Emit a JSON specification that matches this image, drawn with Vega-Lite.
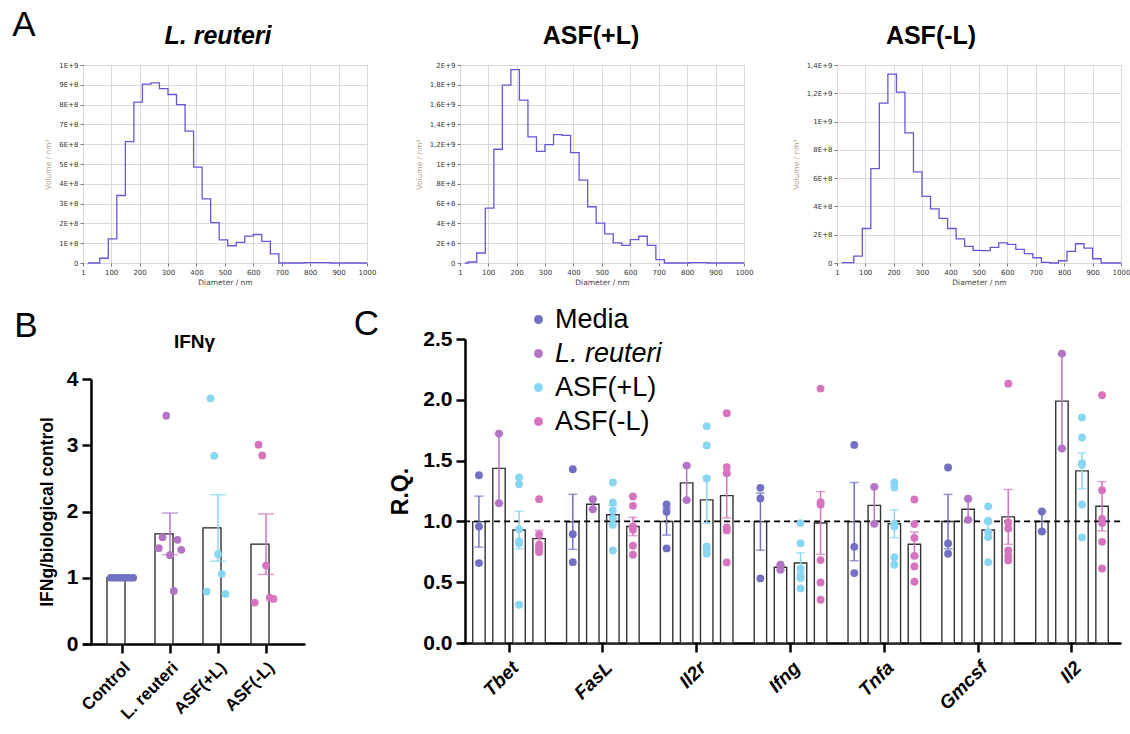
{
  "$schema": "https://vega.github.io/schema/vega-lite/v6.json",
  "background": "white",
  "padding": {"left": 12, "top": 7, "right": 5, "bottom": 5},
  "config": {
    "view": {"stroke": null},
    "font": "Liberation Sans",
    "title": {"font": "Liberation Sans", "color": "black"},
    "axis": {"labelFont": "Liberation Sans", "titleFont": "Liberation Sans", "labelColor": "black", "titleColor": "black"},
    "legend": {"labelFont": "Liberation Sans"}
  },
  "datasets": {
    "nta": [
      {"sample": "L. reuteri", "diameter": 18, "volume": 0},
      {"sample": "L. reuteri", "diameter": 60, "volume": 2.4e7},
      {"sample": "L. reuteri", "diameter": 90, "volume": 1.22e8},
      {"sample": "L. reuteri", "diameter": 120, "volume": 3.41e8},
      {"sample": "L. reuteri", "diameter": 150, "volume": 6.13e8},
      {"sample": "L. reuteri", "diameter": 180, "volume": 8.13e8},
      {"sample": "L. reuteri", "diameter": 210, "volume": 9.03e8},
      {"sample": "L. reuteri", "diameter": 240, "volume": 9.1e8},
      {"sample": "L. reuteri", "diameter": 270, "volume": 8.81e8},
      {"sample": "L. reuteri", "diameter": 300, "volume": 8.51e8},
      {"sample": "L. reuteri", "diameter": 330, "volume": 8.0e8},
      {"sample": "L. reuteri", "diameter": 360, "volume": 6.66e8},
      {"sample": "L. reuteri", "diameter": 390, "volume": 4.84e8},
      {"sample": "L. reuteri", "diameter": 420, "volume": 3.24e8},
      {"sample": "L. reuteri", "diameter": 450, "volume": 2.04e8},
      {"sample": "L. reuteri", "diameter": 480, "volume": 1.17e8},
      {"sample": "L. reuteri", "diameter": 510, "volume": 8.7e7},
      {"sample": "L. reuteri", "diameter": 540, "volume": 1.04e8},
      {"sample": "L. reuteri", "diameter": 570, "volume": 1.36e8},
      {"sample": "L. reuteri", "diameter": 600, "volume": 1.44e8},
      {"sample": "L. reuteri", "diameter": 630, "volume": 1.09e8},
      {"sample": "L. reuteri", "diameter": 660, "volume": 4.6e7},
      {"sample": "L. reuteri", "diameter": 690, "volume": 0},
      {"sample": "L. reuteri", "diameter": 780, "volume": 2e6},
      {"sample": "L. reuteri", "diameter": 870, "volume": 0},
      {"sample": "L. reuteri", "diameter": 1000, "volume": 0},
      {"sample": "ASF(+L)", "diameter": 18, "volume": 0},
      {"sample": "ASF(+L)", "diameter": 30, "volume": 1e7},
      {"sample": "ASF(+L)", "diameter": 60, "volume": 1.01e8},
      {"sample": "ASF(+L)", "diameter": 90, "volume": 5.54e8},
      {"sample": "ASF(+L)", "diameter": 120, "volume": 1.149e9},
      {"sample": "ASF(+L)", "diameter": 150, "volume": 1.797e9},
      {"sample": "ASF(+L)", "diameter": 180, "volume": 1.953e9},
      {"sample": "ASF(+L)", "diameter": 210, "volume": 1.645e9},
      {"sample": "ASF(+L)", "diameter": 240, "volume": 1.274e9},
      {"sample": "ASF(+L)", "diameter": 270, "volume": 1.128e9},
      {"sample": "ASF(+L)", "diameter": 300, "volume": 1.196e9},
      {"sample": "ASF(+L)", "diameter": 330, "volume": 1.297e9},
      {"sample": "ASF(+L)", "diameter": 360, "volume": 1.29e9},
      {"sample": "ASF(+L)", "diameter": 390, "volume": 1.115e9},
      {"sample": "ASF(+L)", "diameter": 420, "volume": 8.38e8},
      {"sample": "ASF(+L)", "diameter": 450, "volume": 5.68e8},
      {"sample": "ASF(+L)", "diameter": 480, "volume": 4.02e8},
      {"sample": "ASF(+L)", "diameter": 510, "volume": 2.94e8},
      {"sample": "ASF(+L)", "diameter": 540, "volume": 2.03e8},
      {"sample": "ASF(+L)", "diameter": 570, "volume": 1.79e8},
      {"sample": "ASF(+L)", "diameter": 600, "volume": 2.36e8},
      {"sample": "ASF(+L)", "diameter": 630, "volume": 2.7e8},
      {"sample": "ASF(+L)", "diameter": 660, "volume": 1.79e8},
      {"sample": "ASF(+L)", "diameter": 690, "volume": 3.4e7},
      {"sample": "ASF(+L)", "diameter": 720, "volume": 0},
      {"sample": "ASF(+L)", "diameter": 810, "volume": 3e6},
      {"sample": "ASF(+L)", "diameter": 870, "volume": 0},
      {"sample": "ASF(+L)", "diameter": 1000, "volume": 0},
      {"sample": "ASF(-L)", "diameter": 18, "volume": 2e6},
      {"sample": "ASF(-L)", "diameter": 60, "volume": 4.9e7},
      {"sample": "ASF(-L)", "diameter": 90, "volume": 2.44e8},
      {"sample": "ASF(-L)", "diameter": 120, "volume": 6.67e8},
      {"sample": "ASF(-L)", "diameter": 150, "volume": 1.131e9},
      {"sample": "ASF(-L)", "diameter": 180, "volume": 1.335e9},
      {"sample": "ASF(-L)", "diameter": 210, "volume": 1.208e9},
      {"sample": "ASF(-L)", "diameter": 240, "volume": 9.2e8},
      {"sample": "ASF(-L)", "diameter": 270, "volume": 6.44e8},
      {"sample": "ASF(-L)", "diameter": 300, "volume": 4.71e8},
      {"sample": "ASF(-L)", "diameter": 330, "volume": 3.82e8},
      {"sample": "ASF(-L)", "diameter": 360, "volume": 3.16e8},
      {"sample": "ASF(-L)", "diameter": 390, "volume": 2.44e8},
      {"sample": "ASF(-L)", "diameter": 420, "volume": 1.71e8},
      {"sample": "ASF(-L)", "diameter": 450, "volume": 1.17e8},
      {"sample": "ASF(-L)", "diameter": 480, "volume": 8.9e7},
      {"sample": "ASF(-L)", "diameter": 510, "volume": 8.7e7},
      {"sample": "ASF(-L)", "diameter": 540, "volume": 1.1e8},
      {"sample": "ASF(-L)", "diameter": 570, "volume": 1.43e8},
      {"sample": "ASF(-L)", "diameter": 600, "volume": 1.31e8},
      {"sample": "ASF(-L)", "diameter": 630, "volume": 9.6e7},
      {"sample": "ASF(-L)", "diameter": 660, "volume": 6.6e7},
      {"sample": "ASF(-L)", "diameter": 690, "volume": 3.7e7},
      {"sample": "ASF(-L)", "diameter": 720, "volume": 5e6},
      {"sample": "ASF(-L)", "diameter": 750, "volume": 0},
      {"sample": "ASF(-L)", "diameter": 780, "volume": 1.6e7},
      {"sample": "ASF(-L)", "diameter": 810, "volume": 8.2e7},
      {"sample": "ASF(-L)", "diameter": 840, "volume": 1.36e8},
      {"sample": "ASF(-L)", "diameter": 870, "volume": 1.05e8},
      {"sample": "ASF(-L)", "diameter": 900, "volume": 3.0e7},
      {"sample": "ASF(-L)", "diameter": 930, "volume": 0},
      {"sample": "ASF(-L)", "diameter": 1000, "volume": 0}
    ],
    "ifng": [
      {"group": "Control", "rep": 1, "value": 1.0},
      {"group": "Control", "rep": 2, "value": 1.0},
      {"group": "Control", "rep": 3, "value": 1.0},
      {"group": "Control", "rep": 4, "value": 1.0},
      {"group": "Control", "rep": 5, "value": 1.0},
      {"group": "Control", "rep": 6, "value": 1.0},
      {"group": "Control", "rep": 7, "value": 1.0},
      {"group": "L. reuteri", "rep": 1, "value": 1.446},
      {"group": "L. reuteri", "rep": 2, "value": 1.612},
      {"group": "L. reuteri", "rep": 3, "value": 3.446},
      {"group": "L. reuteri", "rep": 4, "value": 1.34},
      {"group": "L. reuteri", "rep": 5, "value": 0.801},
      {"group": "L. reuteri", "rep": 6, "value": 1.572},
      {"group": "L. reuteri", "rep": 7, "value": 1.421},
      {"group": "ASF(+L)", "rep": 1, "value": 0.791},
      {"group": "ASF(+L)", "rep": 2, "value": 3.708},
      {"group": "ASF(+L)", "rep": 3, "value": 2.841},
      {"group": "ASF(+L)", "rep": 4, "value": 1.355},
      {"group": "ASF(+L)", "rep": 5, "value": 1.058},
      {"group": "ASF(+L)", "rep": 6, "value": 0.756},
      {"group": "ASF(-L)", "rep": 1, "value": 0.625},
      {"group": "ASF(-L)", "rep": 2, "value": 3.008},
      {"group": "ASF(-L)", "rep": 3, "value": 2.846},
      {"group": "ASF(-L)", "rep": 4, "value": 1.184},
      {"group": "ASF(-L)", "rep": 5, "value": 0.7},
      {"group": "ASF(-L)", "rep": 6, "value": 0.68}
    ],
    "rq": [
      {"gene": "Tbet", "group": "Media", "rep": 1, "value": 1.38},
      {"gene": "Tbet", "group": "Media", "rep": 2, "value": 0.958},
      {"gene": "Tbet", "group": "Media", "rep": 3, "value": 0.657},
      {"gene": "Tbet", "group": "L. reuteri", "rep": 1, "value": 1.722},
      {"gene": "Tbet", "group": "L. reuteri", "rep": 2, "value": 1.15},
      {"gene": "Tbet", "group": "ASF(+L)", "rep": 1, "value": 1.306},
      {"gene": "Tbet", "group": "ASF(+L)", "rep": 2, "value": 1.361},
      {"gene": "Tbet", "group": "ASF(+L)", "rep": 3, "value": 0.936},
      {"gene": "Tbet", "group": "ASF(+L)", "rep": 4, "value": 0.835},
      {"gene": "Tbet", "group": "ASF(+L)", "rep": 5, "value": 0.821},
      {"gene": "Tbet", "group": "ASF(+L)", "rep": 6, "value": 0.315},
      {"gene": "Tbet", "group": "ASF(-L)", "rep": 1, "value": 1.183},
      {"gene": "Tbet", "group": "ASF(-L)", "rep": 2, "value": 0.89},
      {"gene": "Tbet", "group": "ASF(-L)", "rep": 3, "value": 0.808},
      {"gene": "Tbet", "group": "ASF(-L)", "rep": 4, "value": 0.767},
      {"gene": "Tbet", "group": "ASF(-L)", "rep": 5, "value": 0.753},
      {"gene": "Tbet", "group": "ASF(-L)", "rep": 6, "value": 0.748},
      {"gene": "FasL", "group": "Media", "rep": 1, "value": 1.429},
      {"gene": "FasL", "group": "Media", "rep": 2, "value": 0.895},
      {"gene": "FasL", "group": "Media", "rep": 3, "value": 0.665},
      {"gene": "FasL", "group": "L. reuteri", "rep": 1, "value": 1.183},
      {"gene": "FasL", "group": "L. reuteri", "rep": 2, "value": 1.1},
      {"gene": "FasL", "group": "ASF(+L)", "rep": 1, "value": 1.32},
      {"gene": "FasL", "group": "ASF(+L)", "rep": 2, "value": 1.156},
      {"gene": "FasL", "group": "ASF(+L)", "rep": 3, "value": 1.09},
      {"gene": "FasL", "group": "ASF(+L)", "rep": 4, "value": 1.027},
      {"gene": "FasL", "group": "ASF(+L)", "rep": 5, "value": 0.972},
      {"gene": "FasL", "group": "ASF(+L)", "rep": 6, "value": 0.761},
      {"gene": "FasL", "group": "ASF(-L)", "rep": 1, "value": 1.205},
      {"gene": "FasL", "group": "ASF(-L)", "rep": 2, "value": 1.128},
      {"gene": "FasL", "group": "ASF(-L)", "rep": 3, "value": 0.958},
      {"gene": "FasL", "group": "ASF(-L)", "rep": 4, "value": 0.931},
      {"gene": "FasL", "group": "ASF(-L)", "rep": 5, "value": 0.8},
      {"gene": "FasL", "group": "ASF(-L)", "rep": 6, "value": 0.726},
      {"gene": "Il2r", "group": "Media", "rep": 1, "value": 1.139},
      {"gene": "Il2r", "group": "Media", "rep": 2, "value": 1.079},
      {"gene": "Il2r", "group": "Media", "rep": 3, "value": 0.778},
      {"gene": "Il2r", "group": "L. reuteri", "rep": 1, "value": 1.459},
      {"gene": "Il2r", "group": "L. reuteri", "rep": 2, "value": 1.175},
      {"gene": "Il2r", "group": "ASF(+L)", "rep": 1, "value": 1.783},
      {"gene": "Il2r", "group": "ASF(+L)", "rep": 2, "value": 1.624},
      {"gene": "Il2r", "group": "ASF(+L)", "rep": 3, "value": 1.353},
      {"gene": "Il2r", "group": "ASF(+L)", "rep": 4, "value": 0.794},
      {"gene": "Il2r", "group": "ASF(+L)", "rep": 5, "value": 0.772},
      {"gene": "Il2r", "group": "ASF(+L)", "rep": 6, "value": 0.734},
      {"gene": "Il2r", "group": "ASF(-L)", "rep": 1, "value": 1.889},
      {"gene": "Il2r", "group": "ASF(-L)", "rep": 2, "value": 1.446},
      {"gene": "Il2r", "group": "ASF(-L)", "rep": 3, "value": 1.396},
      {"gene": "Il2r", "group": "ASF(-L)", "rep": 4, "value": 0.95},
      {"gene": "Il2r", "group": "ASF(-L)", "rep": 5, "value": 0.926},
      {"gene": "Il2r", "group": "ASF(-L)", "rep": 6, "value": 0.663},
      {"gene": "Ifng", "group": "Media", "rep": 1, "value": 1.276},
      {"gene": "Ifng", "group": "Media", "rep": 2, "value": 1.188},
      {"gene": "Ifng", "group": "Media", "rep": 3, "value": 0.531},
      {"gene": "Ifng", "group": "L. reuteri", "rep": 1, "value": 0.643},
      {"gene": "Ifng", "group": "L. reuteri", "rep": 2, "value": 0.602},
      {"gene": "Ifng", "group": "ASF(+L)", "rep": 1, "value": 0.986},
      {"gene": "Ifng", "group": "ASF(+L)", "rep": 2, "value": 0.821},
      {"gene": "Ifng", "group": "ASF(+L)", "rep": 3, "value": 0.611},
      {"gene": "Ifng", "group": "ASF(+L)", "rep": 4, "value": 0.548},
      {"gene": "Ifng", "group": "ASF(+L)", "rep": 5, "value": 0.534},
      {"gene": "Ifng", "group": "ASF(+L)", "rep": 6, "value": 0.449},
      {"gene": "Ifng", "group": "ASF(-L)", "rep": 1, "value": 2.092},
      {"gene": "Ifng", "group": "ASF(-L)", "rep": 2, "value": 1.158},
      {"gene": "Ifng", "group": "ASF(-L)", "rep": 3, "value": 1.136},
      {"gene": "Ifng", "group": "ASF(-L)", "rep": 4, "value": 0.682},
      {"gene": "Ifng", "group": "ASF(-L)", "rep": 5, "value": 0.498},
      {"gene": "Ifng", "group": "ASF(-L)", "rep": 6, "value": 0.356},
      {"gene": "Tnfa", "group": "Media", "rep": 1, "value": 1.629},
      {"gene": "Tnfa", "group": "Media", "rep": 2, "value": 0.791},
      {"gene": "Tnfa", "group": "Media", "rep": 3, "value": 0.575},
      {"gene": "Tnfa", "group": "L. reuteri", "rep": 1, "value": 1.284},
      {"gene": "Tnfa", "group": "L. reuteri", "rep": 2, "value": 0.98},
      {"gene": "Tnfa", "group": "ASF(+L)", "rep": 1, "value": 1.32},
      {"gene": "Tnfa", "group": "ASF(+L)", "rep": 2, "value": 1.279},
      {"gene": "Tnfa", "group": "ASF(+L)", "rep": 3, "value": 0.98},
      {"gene": "Tnfa", "group": "ASF(+L)", "rep": 4, "value": 0.958},
      {"gene": "Tnfa", "group": "ASF(+L)", "rep": 5, "value": 0.706},
      {"gene": "Tnfa", "group": "ASF(+L)", "rep": 6, "value": 0.643},
      {"gene": "Tnfa", "group": "ASF(-L)", "rep": 1, "value": 1.18},
      {"gene": "Tnfa", "group": "ASF(-L)", "rep": 2, "value": 0.978},
      {"gene": "Tnfa", "group": "ASF(-L)", "rep": 3, "value": 0.865},
      {"gene": "Tnfa", "group": "ASF(-L)", "rep": 4, "value": 0.717},
      {"gene": "Tnfa", "group": "ASF(-L)", "rep": 5, "value": 0.63},
      {"gene": "Tnfa", "group": "ASF(-L)", "rep": 6, "value": 0.504},
      {"gene": "Gmcsf", "group": "Media", "rep": 1, "value": 1.443},
      {"gene": "Gmcsf", "group": "Media", "rep": 2, "value": 0.819},
      {"gene": "Gmcsf", "group": "Media", "rep": 3, "value": 0.734},
      {"gene": "Gmcsf", "group": "L. reuteri", "rep": 1, "value": 1.186},
      {"gene": "Gmcsf", "group": "L. reuteri", "rep": 2, "value": 1.013},
      {"gene": "Gmcsf", "group": "ASF(+L)", "rep": 1, "value": 1.123},
      {"gene": "Gmcsf", "group": "ASF(+L)", "rep": 2, "value": 1.005},
      {"gene": "Gmcsf", "group": "ASF(+L)", "rep": 3, "value": 1.0},
      {"gene": "Gmcsf", "group": "ASF(+L)", "rep": 4, "value": 0.912},
      {"gene": "Gmcsf", "group": "ASF(+L)", "rep": 5, "value": 0.871},
      {"gene": "Gmcsf", "group": "ASF(+L)", "rep": 6, "value": 0.665},
      {"gene": "Gmcsf", "group": "ASF(-L)", "rep": 1, "value": 2.133},
      {"gene": "Gmcsf", "group": "ASF(-L)", "rep": 2, "value": 0.991},
      {"gene": "Gmcsf", "group": "ASF(-L)", "rep": 3, "value": 0.942},
      {"gene": "Gmcsf", "group": "ASF(-L)", "rep": 4, "value": 0.761},
      {"gene": "Gmcsf", "group": "ASF(-L)", "rep": 5, "value": 0.717},
      {"gene": "Gmcsf", "group": "ASF(-L)", "rep": 6, "value": 0.679},
      {"gene": "Il2", "group": "Media", "rep": 1, "value": 1.082},
      {"gene": "Il2", "group": "Media", "rep": 2, "value": 0.917},
      {"gene": "Il2", "group": "L. reuteri", "rep": 1, "value": 2.38},
      {"gene": "Il2", "group": "L. reuteri", "rep": 2, "value": 1.599},
      {"gene": "Il2", "group": "ASF(+L)", "rep": 1, "value": 1.854},
      {"gene": "Il2", "group": "ASF(+L)", "rep": 2, "value": 1.69},
      {"gene": "Il2", "group": "ASF(+L)", "rep": 3, "value": 1.479},
      {"gene": "Il2", "group": "ASF(+L)", "rep": 4, "value": 1.465},
      {"gene": "Il2", "group": "ASF(+L)", "rep": 5, "value": 1.139},
      {"gene": "Il2", "group": "ASF(+L)", "rep": 6, "value": 0.868},
      {"gene": "Il2", "group": "ASF(-L)", "rep": 1, "value": 2.037},
      {"gene": "Il2", "group": "ASF(-L)", "rep": 2, "value": 1.257},
      {"gene": "Il2", "group": "ASF(-L)", "rep": 3, "value": 1.021},
      {"gene": "Il2", "group": "ASF(-L)", "rep": 4, "value": 0.986},
      {"gene": "Il2", "group": "ASF(-L)", "rep": 5, "value": 0.832},
      {"gene": "Il2", "group": "ASF(-L)", "rep": 6, "value": 0.613}
    ]
  },
  "title": {"text": "A", "anchor": "start", "fontSize": 35, "fontWeight": "normal", "offset": -19, "dx": -2},
  "columns": 3,
  "align": "none",
  "bounds": "flush",
  "spacing": {"row": 76, "column": 93},
  "resolve": {"scale": {"color": "independent", "fill": "independent"}, "legend": {"color": "independent", "fill": "independent"}},
  "concat": [
    {
      "width": 284, "height": 198,
      "view": {"stroke": "#9a9a9a"},
      "title": {"text": "L. reuteri", "fontStyle": "italic", "fontSize": 25, "fontWeight": "bold", "dx": -7, "offset": 12},
      "data": {"name": "nta"},
      "transform": [{"filter": "datum.sample === 'L. reuteri'"}],
      "mark": {"type": "line", "interpolate": "step-after", "color": "#6458d8", "strokeWidth": 1.3},
      "encoding": {
        "x": {"field": "diameter", "type": "quantitative", "scale": {"domain": [1, 1000], "nice": false, "zero": false},
          "axis": {"values": [1, 100, 200, 300, 400, 500, 600, 700, 800, 900, 1000], "format": "d", "grid": true, "gridColor": "#d9d9d9", "domain": false, "tickColor": "#777", "tickSize": 3, "labelFont": "DejaVu Sans", "labelFontSize": 7, "labelColor": "#333", "labelPadding": 2, "labelFlush": false, "title": "Diameter / nm", "titleFont": "DejaVu Sans", "titleFontSize": 7.5, "titleFontWeight": "normal", "titleColor": "#444", "titlePadding": 3}},
        "y": {"field": "volume", "type": "quantitative", "scale": {"domain": [0, 1e9], "nice": false},
          "axis": {"values": [0, 1e8, 2e8, 3e8, 4e8, 5e8, 6e8, 7e8, 8e8, 9e8, 1e9], "labelExpr": "datum.value == 0 ? '0' : replace(format(datum.value / pow(10, floor(log(datum.value) / LN10 + 1e-9)), '.2~f'), '.', ',') + 'E+' + floor(log(datum.value) / LN10 + 1e-9)", "grid": true, "gridColor": "#d9d9d9", "domain": false, "tickColor": "#777", "tickSize": 3, "labelFont": "DejaVu Sans", "labelFontSize": 7, "labelColor": "#333", "labelPadding": 2, "title": "Volume / nm³", "titleFont": "DejaVu Sans", "titleFontSize": 7.5, "titleFontWeight": "normal", "titleColor": "#b49e8a", "titlePadding": 6}}
      }
    },
    {
      "width": 284, "height": 198,
      "view": {"stroke": "#9a9a9a"},
      "title": {"text": "ASF(+L)", "fontSize": 25, "fontWeight": "bold", "dx": -11, "offset": 12},
      "data": {"name": "nta"},
      "transform": [{"filter": "datum.sample === 'ASF(+L)'"}],
      "mark": {"type": "line", "interpolate": "step-after", "color": "#6458d8", "strokeWidth": 1.3},
      "encoding": {
        "x": {"field": "diameter", "type": "quantitative", "scale": {"domain": [1, 1000], "nice": false, "zero": false},
          "axis": {"values": [1, 100, 200, 300, 400, 500, 600, 700, 800, 900, 1000], "format": "d", "grid": true, "gridColor": "#d9d9d9", "domain": false, "tickColor": "#777", "tickSize": 3, "labelFont": "DejaVu Sans", "labelFontSize": 7, "labelColor": "#333", "labelPadding": 2, "labelFlush": false, "title": "Diameter / nm", "titleFont": "DejaVu Sans", "titleFontSize": 7.5, "titleFontWeight": "normal", "titleColor": "#444", "titlePadding": 3}},
        "y": {"field": "volume", "type": "quantitative", "scale": {"domain": [0, 2e9], "nice": false},
          "axis": {"values": [0, 2e8, 4e8, 6e8, 8e8, 1e9, 1.2e9, 1.4e9, 1.6e9, 1.8e9, 2e9], "labelExpr": "datum.value == 0 ? '0' : replace(format(datum.value / pow(10, floor(log(datum.value) / LN10 + 1e-9)), '.2~f'), '.', ',') + 'E+' + floor(log(datum.value) / LN10 + 1e-9)", "grid": true, "gridColor": "#d9d9d9", "domain": false, "tickColor": "#777", "tickSize": 3, "labelFont": "DejaVu Sans", "labelFontSize": 7, "labelColor": "#333", "labelPadding": 2, "title": "Volume / nm³", "titleFont": "DejaVu Sans", "titleFontSize": 7.5, "titleFontWeight": "normal", "titleColor": "#b49e8a", "titlePadding": 6}}
      }
    },
    {
      "width": 284, "height": 198,
      "view": {"stroke": "#9a9a9a"},
      "title": {"text": "ASF(-L)", "fontSize": 25, "fontWeight": "bold", "dx": -48, "offset": 12},
      "data": {"name": "nta"},
      "transform": [{"filter": "datum.sample === 'ASF(-L)'"}],
      "mark": {"type": "line", "interpolate": "step-after", "color": "#6458d8", "strokeWidth": 1.3},
      "encoding": {
        "x": {"field": "diameter", "type": "quantitative", "scale": {"domain": [1, 1000], "nice": false, "zero": false},
          "axis": {"values": [1, 100, 200, 300, 400, 500, 600, 700, 800, 900, 1000], "format": "d", "grid": true, "gridColor": "#d9d9d9", "domain": false, "tickColor": "#777", "tickSize": 3, "labelFont": "DejaVu Sans", "labelFontSize": 7, "labelColor": "#333", "labelPadding": 2, "labelFlush": false, "title": "Diameter / nm", "titleFont": "DejaVu Sans", "titleFontSize": 7.5, "titleFontWeight": "normal", "titleColor": "#444", "titlePadding": 3}},
        "y": {"field": "volume", "type": "quantitative", "scale": {"domain": [0, 1.4e9], "nice": false},
          "axis": {"values": [0, 2e8, 4e8, 6e8, 8e8, 1e9, 1.2e9, 1.4e9], "labelExpr": "datum.value == 0 ? '0' : replace(format(datum.value / pow(10, floor(log(datum.value) / LN10 + 1e-9)), '.2~f'), '.', ',') + 'E+' + floor(log(datum.value) / LN10 + 1e-9)", "grid": true, "gridColor": "#d9d9d9", "domain": false, "tickColor": "#777", "tickSize": 3, "labelFont": "DejaVu Sans", "labelFontSize": 7, "labelColor": "#333", "labelPadding": 2, "title": "Volume / nm³", "titleFont": "DejaVu Sans", "titleFontSize": 7.5, "titleFontWeight": "normal", "titleColor": "#b49e8a", "titlePadding": 6}}
      }
    },
    {
      "width": 284, "height": 305,
      "title": {"text": "B", "anchor": "start", "fontSize": 35, "fontWeight": "normal", "offset": -12, "dx": -24},
      "data": {"name": "ifng"},
      "resolve": {"axis": {"x": "independent"}},
      "layer": [
        {
          "mark": {"type": "bar", "fill": "white", "stroke": "#222", "strokeWidth": 1.3},
          "encoding": {
            "x": {"field": "group", "type": "nominal", "sort": ["Control", "L. reuteri", "ASF(+L)", "ASF(-L)"], "scale": {"range": [0, 222], "paddingInner": 0.375, "paddingOuter": 0.5},
              "axis": {"title": null, "labelAngle": -45, "labelFontSize": 17, "labelFontWeight": "bold", "labelColor": "black", "labelPadding": 6, "tickSize": 9, "tickWidth": 2.5, "tickColor": "black", "domainWidth": 2.5, "domainColor": "black"}},
            "y": {"aggregate": "mean", "field": "value", "type": "quantitative", "title": "IFNg/biological control", "scale": {"domain": [0, 4], "nice": false, "range": [305, 40]},
              "axis": {"values": [0, 1, 2, 3, 4], "format": "d", "offset": -8, "grid": false, "domainWidth": 2.5, "domainColor": "black", "tickWidth": 2.5, "tickColor": "black", "tickSize": 9, "labelFontSize": 21, "labelFontWeight": "bold", "labelColor": "black", "labelPadding": 4, "title": "IFNg/biological control", "titleFontSize": 17.5, "titleFontWeight": "bold", "titlePadding": 10}}
          }
        },
        {
          "mark": {"type": "errorbar", "extent": "stderr", "ticks": {"size": 16}, "thickness": 1.5},
          "encoding": {
            "x": {"field": "group", "type": "nominal", "sort": ["Control", "L. reuteri", "ASF(+L)", "ASF(-L)"],
              "axis": {"orient": "top", "title": "IFNγ", "labels": false, "ticks": false, "domain": false, "offset": -40, "titleFontSize": 19, "titleFontWeight": "bold", "titleColor": "black", "titlePadding": 28}},
            "y": {"field": "value", "type": "quantitative", "title": "IFNg/biological control"},
            "color": {"field": "group", "type": "nominal", "scale": {"domain": ["Control", "L. reuteri", "ASF(+L)", "ASF(-L)"], "range": ["#7270c2", "#b474c6", "#88d6f2", "#d674c0"]}, "legend": null}
          }
        },
        {
          "mark": {"type": "point", "filled": true, "size": 60, "opacity": 1},
          "encoding": {
            "x": {"field": "group", "type": "nominal", "sort": ["Control", "L. reuteri", "ASF(+L)", "ASF(-L)"], "axis": null},
            "xOffset": {"field": "rep", "type": "quantitative", "scale": {"domain": [0, 8]}},
            "y": {"field": "value", "type": "quantitative", "title": "IFNg/biological control"},
            "color": {"field": "group", "type": "nominal", "legend": null}
          }
        }
      ]
    },
    {
      "width": 284, "height": 304,
      "title": {"text": "C", "anchor": "start", "fontSize": 35, "fontWeight": "normal", "offset": -36, "dx": -36},
      "data": {"name": "rq"},
      "layer": [
        {
          "mark": {"type": "bar", "fill": "white", "stroke": "#333", "strokeWidth": 1.4},
          "encoding": {
            "x": {"field": "gene", "type": "nominal", "sort": ["Tbet", "FasL", "Il2r", "Ifng", "Tnfa", "Gmcsf", "Il2"], "scale": {"range": [0, 661], "paddingInner": 0.145, "paddingOuter": 0.095},
              "axis": {"title": null, "labelAngle": -45, "labelFontSize": 19, "labelFontWeight": "bold", "labelFontStyle": "italic", "labelColor": "black", "labelPadding": 6, "tickSize": 9, "tickWidth": 2.5, "tickColor": "black", "domainWidth": 2.5, "domainColor": "black"}},
            "xOffset": {"field": "group", "type": "nominal", "sort": ["Media", "L. reuteri", "ASF(+L)", "ASF(-L)"], "scale": {"paddingInner": 0.38, "paddingOuter": 0.19}},
            "y": {"aggregate": "mean", "field": "value", "type": "quantitative", "title": "R.Q.", "scale": {"domain": [0, 2.5], "nice": false},
              "axis": {"values": [0, 0.5, 1, 1.5, 2, 2.5], "format": ".1f", "offset": -5, "grid": false, "domainWidth": 2.5, "domainColor": "black", "tickWidth": 2.5, "tickColor": "black", "tickSize": 9, "labelFontSize": 21, "labelFontWeight": "bold", "labelColor": "black", "labelPadding": 4, "title": "R.Q.", "titleFontSize": 23, "titleFontWeight": "bold", "titlePadding": 10}}
          }
        },
        {
          "data": {"values": [{"ref": 1}]},
          "mark": {"type": "rule", "strokeDash": [6, 4], "strokeWidth": 1.6, "color": "black"},
          "encoding": {
            "x": {"datum": "Tbet", "type": "nominal", "bandPosition": -0.06},
            "x2": {"datum": "Il2", "bandPosition": 1.12},
            "y": {"field": "ref", "type": "quantitative", "title": "R.Q."}
          }
        },
        {
          "transform": [{"filter": "datum.group === 'Media' || datum.group === 'L. reuteri'"}],
          "mark": {"type": "point", "filled": true, "size": 62, "opacity": 1},
          "encoding": {
            "x": {"field": "gene", "type": "nominal", "sort": ["Tbet", "FasL", "Il2r", "Ifng", "Tnfa", "Gmcsf", "Il2"]},
            "xOffset": {"field": "group", "type": "nominal", "sort": ["Media", "L. reuteri", "ASF(+L)", "ASF(-L)"]},
            "y": {"field": "value", "type": "quantitative", "title": "R.Q."},
            "color": {"field": "group", "type": "nominal", "scale": {"domain": ["Media", "L. reuteri", "ASF(+L)", "ASF(-L)"], "range": ["#7270c2", "#b474c6", "#88d6f2", "#d674c0"]},
              "legend": {"title": null, "orient": "none", "legendX": 65, "legendY": -33, "labelFontSize": 27, "labelColor": "black", "labelOffset": 3, "symbolType": "circle", "symbolSize": 80, "symbolStrokeWidth": 0, "rowPadding": 6,
                "labelFontStyle": {"expr": "datum.label === 'L. reuteri' ? 'italic' : 'normal'"}}}
          }
        },
        {
          "transform": [{"filter": "(datum.group === 'ASF(+L)' || datum.group === 'ASF(-L)') && datum.rep % 2 == 1"}],
          "mark": {"type": "point", "filled": true, "size": 62, "opacity": 1, "dx": -3},
          "encoding": {
            "x": {"field": "gene", "type": "nominal", "sort": ["Tbet", "FasL", "Il2r", "Ifng", "Tnfa", "Gmcsf", "Il2"]},
            "xOffset": {"field": "group", "type": "nominal", "sort": ["Media", "L. reuteri", "ASF(+L)", "ASF(-L)"]},
            "y": {"field": "value", "type": "quantitative", "title": "R.Q."},
            "color": {"field": "group", "type": "nominal"}
          }
        },
        {
          "transform": [{"filter": "(datum.group === 'ASF(+L)' || datum.group === 'ASF(-L)') && datum.rep % 2 == 0"}],
          "mark": {"type": "point", "filled": true, "size": 62, "opacity": 1, "dx": 3},
          "encoding": {
            "x": {"field": "gene", "type": "nominal", "sort": ["Tbet", "FasL", "Il2r", "Ifng", "Tnfa", "Gmcsf", "Il2"]},
            "xOffset": {"field": "group", "type": "nominal", "sort": ["Media", "L. reuteri", "ASF(+L)", "ASF(-L)"]},
            "y": {"field": "value", "type": "quantitative", "title": "R.Q."},
            "color": {"field": "group", "type": "nominal"}
          }
        },
        {
          "mark": {"type": "errorbar", "extent": "stderr", "ticks": {"size": 9}, "thickness": 1.5},
          "encoding": {
            "x": {"field": "gene", "type": "nominal", "sort": ["Tbet", "FasL", "Il2r", "Ifng", "Tnfa", "Gmcsf", "Il2"]},
            "xOffset": {"field": "group", "type": "nominal", "sort": ["Media", "L. reuteri", "ASF(+L)", "ASF(-L)"]},
            "y": {"field": "value", "type": "quantitative", "title": "R.Q."},
            "color": {"field": "group", "type": "nominal"}
          }
        }
      ]
    }
  ]
}
